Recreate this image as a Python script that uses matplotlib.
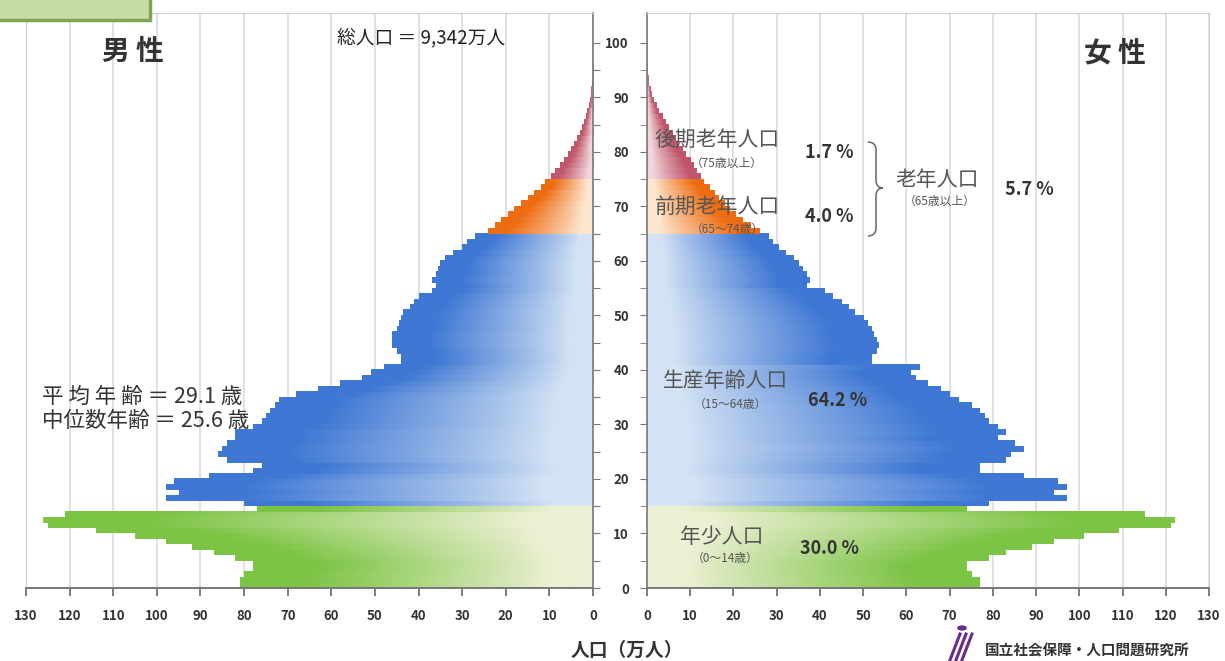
import numpy as np
import matplotlib
matplotlib.use('Agg')
import matplotlib.pyplot as plt
from matplotlib.colors import to_rgb
from matplotlib.path import Path
from matplotlib.patches import PathPatch, Rectangle, Circle
from matplotlib.lines import Line2D

plt.rcParams['font.family'] = ['Noto Sans CJK JP', 'DejaVu Sans']

# 年齢（各歳）と人口（万人）
ages = np.arange(0, 96)

male = [81, 81, 80, 78, 78, 82, 87, 92, 98, 105, 114, 125, 126, 121, 77,
        80, 98, 95, 98, 96, 88, 78, 76, 84, 86, 85, 84, 82, 82, 78,
        76, 75, 74, 73, 72, 68, 63, 58, 53, 51, 48,
        44, 44, 45, 46, 46, 46, 45, 44.5, 44, 43.5, 42, 41, 40, 37, 36,
        37, 36, 35.5, 35, 34, 32, 30, 29, 27,
        24, 22.5, 21, 19.5, 18, 16.5, 15, 13.5, 12, 11,
        9.6, 8.6, 7.6, 6.7, 5.8, 5.0, 4.3, 3.6, 3.0, 2.5, 2.0, 1.6, 1.3,
        1.0, 0.7, 0.5, 0.35, 0.25, 0.15, 0.1, 0.05]

female = [77, 77, 75, 74, 74, 79, 83, 89, 94, 101, 109, 121, 122, 115, 74,
          79, 97, 94, 97, 95, 87, 77, 77, 83, 84, 87, 85, 81, 83, 81,
          79, 78, 77, 75, 72, 70, 68, 65, 62, 61, 63,
          52, 52, 53, 53.5, 53, 52.5, 52, 51, 50, 48, 46.5, 45, 43, 41, 37,
          37.5, 37, 36, 35, 34, 32, 30.5, 29, 28,
          26, 24, 22, 20.5, 19, 18, 16.5, 15.5, 14.5, 13,
          12.3, 11.5, 10.7, 10, 9, 8.2, 7.3, 6.5, 5.8, 5.0, 4.2, 3.5, 2.7,
          2.1, 1.5, 1.0, 0.7, 0.4, 0.25, 0.15, 0.08]

# 年齢区分の境界（0-14, 15-64, 65-74, 75+）
group_start = [0, 15, 65, 75]
group_colors = [('#ecf0d4', '#7cc444'),   # 年少
                ('#d3e2f4', '#3f78d4'),   # 生産年齢
                ('#fde6cf', '#ee6c12'),   # 前期老年
                ('#f2d6dc', '#c0566c')]   # 後期老年

W, H = 1225, 661


def fx(x):
    return x / W


def fy(y):
    return 1 - y / H


def make_grad(pale, dark, n=64):
    t = np.linspace(0, 1, n)
    f = np.clip((t - 0.12) / 0.7, 0, 1) ** 0.9
    p = np.array(to_rgb(pale))
    d = np.array(to_rgb(dark))
    return (p[None, :] + (d - p)[None, :] * f[:, None])[None, :, :]


grads = [make_grad(p, d) for p, d in group_colors]


def group_of(age):
    g = 0
    for i, s in enumerate(group_start):
        if age >= s:
            g = i
    return g


def draw_side(ax, values):
    bars = ax.barh(ages, values, height=1.0, align='edge',
                   color='none', linewidth=0, zorder=2)
    for age, bar in zip(ages, bars):
        x0, w = bar.get_x(), bar.get_width()
        y0, h = bar.get_y(), bar.get_height()
        ax.imshow(grads[group_of(age)], extent=[x0, x0 + w, y0, y0 + h],
                  aspect='auto', interpolation='bilinear', zorder=2)


fig = plt.figure(figsize=(12.25, 6.61), dpi=100)
ax_l = fig.add_axes([fx(26), fy(588), fx(593) - fx(26), fy(13) - fy(588)])
ax_r = fig.add_axes([fx(647), fy(588), fx(1209) - fx(647), fy(13) - fy(588)])

draw_side(ax_l, male)
draw_side(ax_r, female)

xt = np.arange(0, 131, 10)
for ax in (ax_l, ax_r):
    ax.set_ylim(0, 105.5)
    ax.set_xticks(xt)
    ax.set_xticklabels([str(v) for v in xt])
    ax.xaxis.grid(True, color='#dedede', lw=1.3, zorder=0)
    ax.set_axisbelow(True)
    ax.tick_params(axis='x', direction='out', length=6, width=1.2,
                   color='#666', pad=9, labelsize=9.5, labelcolor='#333')
    for lab in ax.get_xticklabels():
        lab.set_fontweight('bold')
    for s in ax.spines.values():
        s.set_color('#cfcfcf')
    ax.spines['bottom'].set_color('#777')
    ax.spines['bottom'].set_linewidth(1.4)

ax_l.set_xlim(130, 0)
ax_r.set_xlim(0, 130)

# 左パネル：右端に年齢軸
ax_l.yaxis.tick_right()
ax_l.set_yticks(np.arange(0, 101, 5))
ax_l.tick_params(axis='y', direction='out', length=5, color='#777',
                 labelright=False)
ax_l.spines['right'].set_color('#777')
ax_l.spines['right'].set_linewidth(1.2)

# 右パネル：左端に年齢ラベル
ax_r.set_yticks(np.arange(0, 101, 10))
ax_r.set_yticks(np.arange(5, 101, 10), minor=True)
ax_r.tick_params(axis='y', which='both', direction='out', length=5,
                 color='#777', pad=8, labelsize=9.5, labelcolor='#333')
for lab in ax_r.get_yticklabels():
    lab.set_fontweight('bold')
ax_r.spines['left'].set_color('#777')
ax_r.spines['left'].set_linewidth(1.2)

# 左上の見出しボックス（切れている）
fig.patches.append(Rectangle((fx(-5), fy(20)), fx(155), 0.05,
                             transform=fig.transFigure, facecolor='#c6dca4',
                             edgecolor='#7ea552', lw=2.5, clip_on=False))

tc = '#333333'
lc = '#555555'
fig.text(fx(133), fy(52), '男 性', fontsize=20, fontweight='bold',
         color=tc, ha='center', va='center')
fig.text(fx(1115), fy(53), '女 性', fontsize=20, fontweight='bold',
         color=tc, ha='center', va='center')
fig.text(fx(337), fy(38), '総人口 ＝ 9,342万人', fontsize=13.5,
         color='#222', ha='left', va='center')
fig.text(fx(42), fy(397), '平 均 年 齢 ＝ 29.1 歳', fontsize=15.5,
         color=tc, ha='left', va='center')
fig.text(fx(42), fy(421), '中位数年齢 ＝ 25.6 歳', fontsize=15.5,
         color=tc, ha='left', va='center')

labels = [
    ('後期老年人口', 655, 140, '（75歳以上）', 727, 163, '1.7 %', 805, 153),
    ('前期老年人口', 655, 207, '（65～74歳）', 727, 229, '4.0 %', 805, 216),
    ('老年人口', 895, 180, '（65歳以上）', 940, 201, '5.7 %', 1005, 190),
    ('生産年齢人口', 663, 381, '（15～64歳）', 730, 404, '64.2 %', 808, 400),
    ('年少人口', 680, 537, '（0～14歳）', 725, 558, '30.0 %', 800, 549),
]
for name, nx, ny, sub, sx, sy, pct, px, py in labels:
    fig.text(fx(nx), fy(ny), name, fontsize=15, color=lc,
             ha='left', va='center')
    fig.text(fx(sx), fy(sy), sub, fontsize=8.5, color=lc,
             ha='center', va='center')
    fig.text(fx(px), fy(py), pct, fontsize=13, fontweight='bold',
             color=tc, ha='left', va='center')

# 中括弧
bx, top, mid, bot = 876, 142, 188, 236
verts = [(868, top), (bx, top), (bx, top + 8), (bx, mid - 8),
         (bx, mid), (bx + 7, mid), (bx, mid), (bx, mid + 8),
         (bx, bot - 8), (bx, bot), (868, bot)]
codes = [Path.MOVETO, Path.CURVE3, Path.CURVE3, Path.LINETO,
         Path.CURVE3, Path.CURVE3, Path.CURVE3, Path.CURVE3,
         Path.LINETO, Path.CURVE3, Path.CURVE3]
brace = Path([(fx(x), fy(y)) for x, y in verts], codes)
fig.patches.append(PathPatch(brace, transform=fig.transFigure,
                             facecolor='none', edgecolor='#666', lw=1.1))

fig.text(fx(627), fy(650), '人口（万人）', fontsize=13.5, fontweight='bold',
         color=tc, ha='center', va='center')

# 研究所ロゴ（簡略）
purple = '#6a2c91'
fig.patches.append(Circle((fx(962), fy(628)), 0.004, transform=fig.transFigure,
                          facecolor=purple, edgecolor='none'))
for dx in (0, 6, 12):
    fig.lines.append(Line2D([fx(960 + dx), fx(950 + dx)],
                            [fy(634), fy(660)], transform=fig.transFigure,
                            color=purple, lw=2.2))
fig.text(fx(985), fy(650), '国立社会保障・人口問題研究所', fontsize=10.5,
         fontweight='bold', color=tc, ha='left', va='center')

plt.savefig('out.png', dpi=100)
